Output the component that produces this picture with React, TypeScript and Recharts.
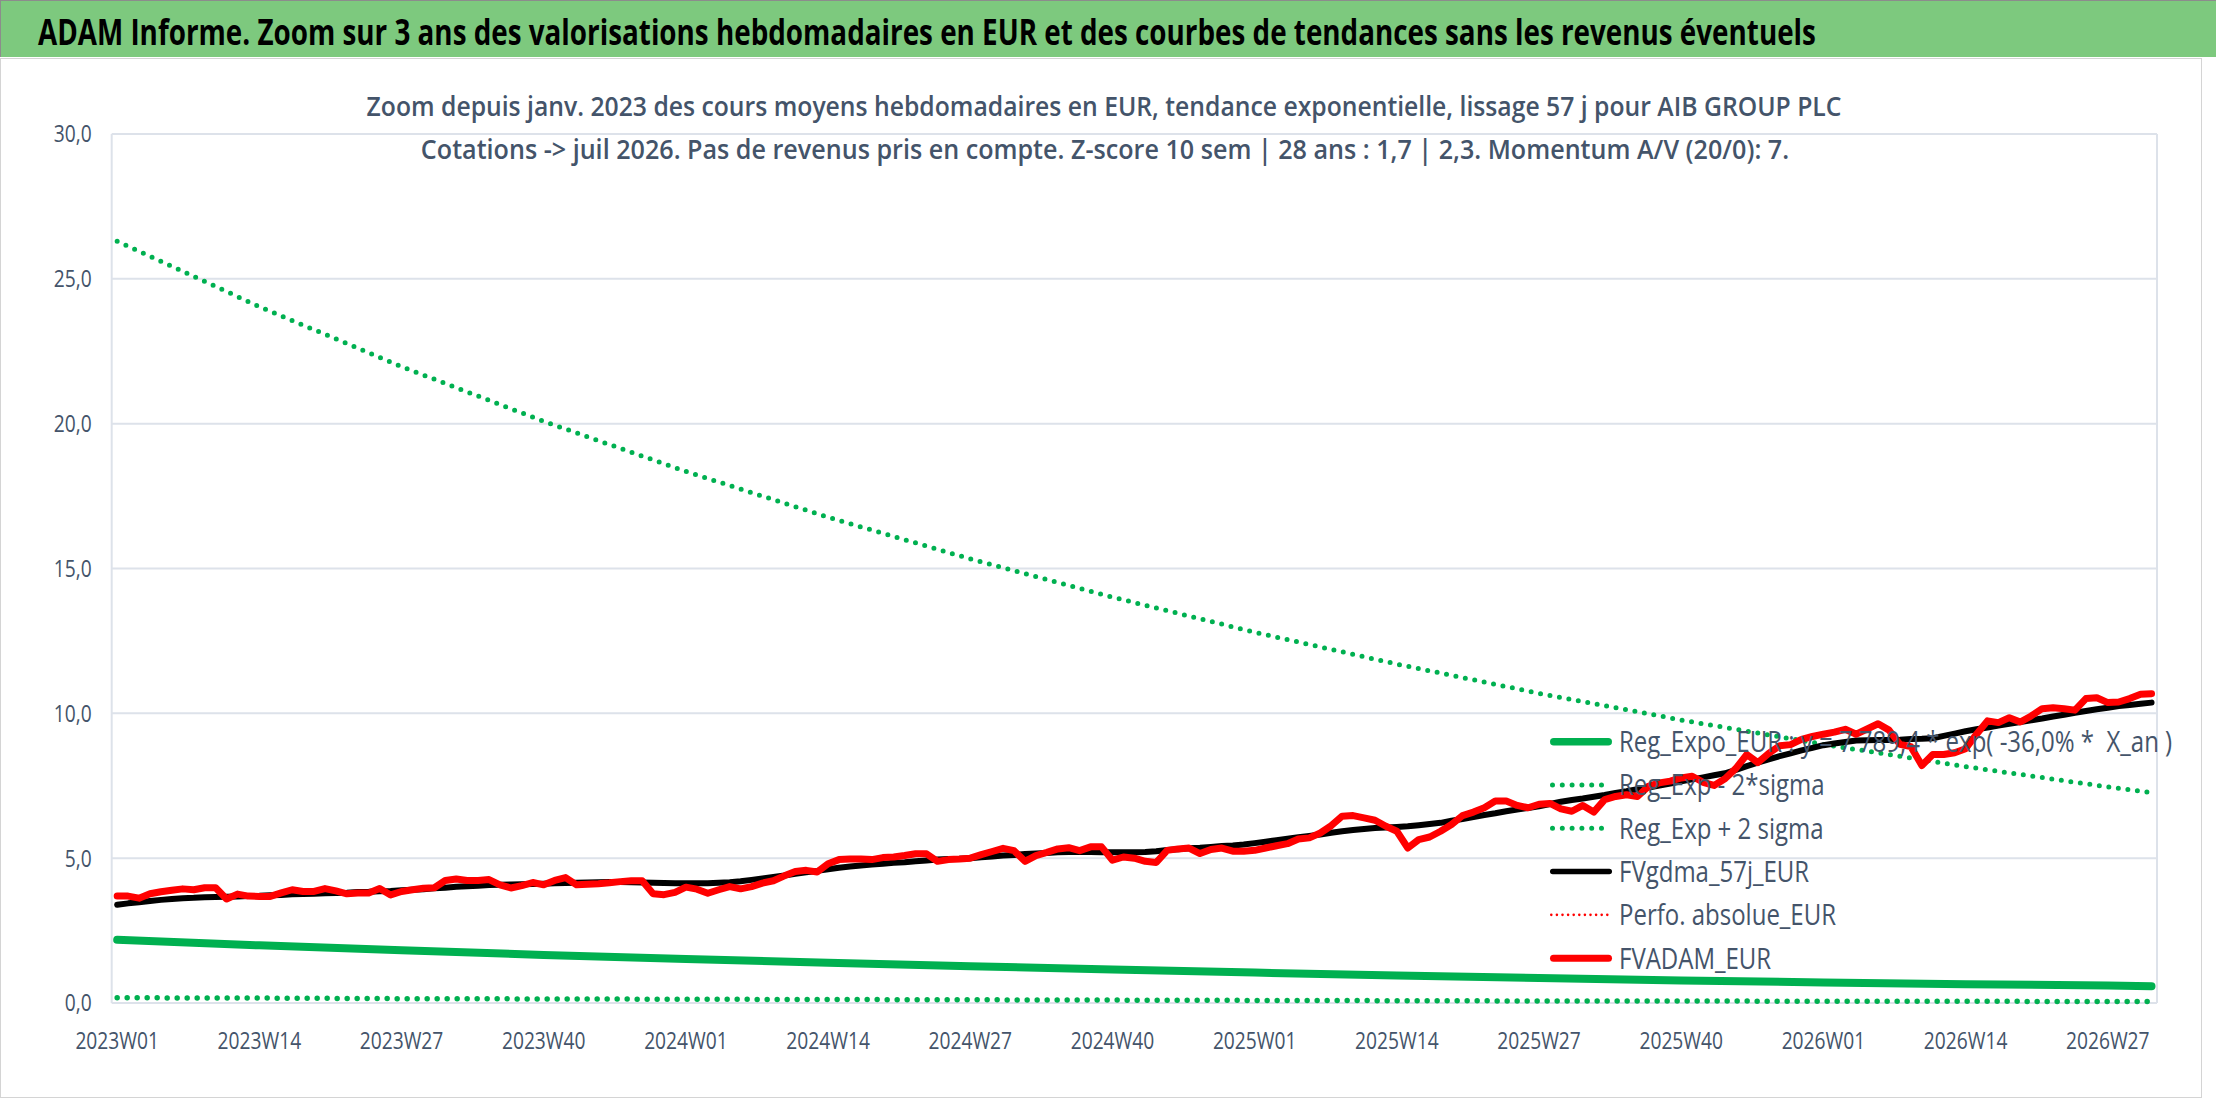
import React from 'react';
import { ComposedChart, Line, XAxis, YAxis, CartesianGrid, Legend } from 'recharts';

// ---------- categories ----------
const yearWeekCounts: [number, number][] = [
  [2023, 52],
  [2024, 52],
  [2025, 52],
  [2026, 31],
];
const weeks: string[] = [];
yearWeekCounts.forEach(([y, n]) => {
  for (let w = 1; w <= n; w++) weeks.push(`${y}W${String(w).padStart(2, '0')}`);
});

// ---------- tick labels ----------
const xTickLabels = [
  '2023W01', '2023W14', '2023W27', '2023W40',
  '2024W01', '2024W14', '2024W27', '2024W40',
  '2025W01', '2025W14', '2025W27', '2025W40',
  '2026W01', '2026W14', '2026W27',
];
const yTicks = [0, 5, 10, 15, 20, 25, 30];

// ---------- series (weekly) ----------
const fvadamEur = [
  3.69, 3.69, 3.62, 3.77, 3.84, 3.89, 3.94, 3.91, 3.98, 3.98,
  3.59, 3.76, 3.69, 3.68, 3.68, 3.80, 3.91, 3.85, 3.85, 3.95,
  3.87, 3.77, 3.80, 3.80, 3.95, 3.73, 3.85, 3.91, 3.96, 3.98,
  4.23, 4.28, 4.23, 4.23, 4.26, 4.08, 3.97, 4.05, 4.16, 4.08,
  4.23, 4.33, 4.08, 4.10, 4.12, 4.15, 4.19, 4.22, 4.22, 3.77,
  3.74, 3.82, 4.00, 3.93, 3.79, 3.91, 4.02, 3.94, 4.02, 4.14,
  4.22, 4.39, 4.54, 4.58, 4.52, 4.81, 4.95, 4.97, 4.97, 4.95,
  5.02, 5.04, 5.09, 5.15, 5.15, 4.89, 4.95, 4.97, 5.00, 5.12,
  5.23, 5.34, 5.26, 4.89, 5.09, 5.20, 5.32, 5.36, 5.26, 5.39,
  5.39, 4.93, 5.04, 5.00, 4.89, 4.85, 5.27, 5.32, 5.35, 5.16,
  5.30, 5.35, 5.24, 5.24, 5.27, 5.35, 5.43, 5.50, 5.66, 5.70,
  5.87, 6.12, 6.45, 6.47, 6.39, 6.31, 6.10, 5.93, 5.35, 5.64,
  5.73, 5.93, 6.16, 6.47, 6.59, 6.74, 6.97, 6.97, 6.82, 6.74,
  6.86, 6.89, 6.70, 6.62, 6.82, 6.59, 7.02, 7.13, 7.19, 7.13,
  7.48, 7.60, 7.66, 7.77, 7.83, 7.62, 7.51, 7.74, 8.10, 8.58,
  8.30, 8.62, 8.88, 8.92, 9.10, 9.20, 9.28, 9.35, 9.45, 9.28,
  9.46, 9.64, 9.42, 8.93, 8.85, 8.20, 8.58, 8.58, 8.64, 8.78,
  9.28, 9.74, 9.68, 9.85, 9.70, 9.91, 10.16, 10.19, 10.16, 10.11,
  10.51, 10.54, 10.37, 10.39, 10.51, 10.66, 10.68,
];

const fvgdma57jEur = [
  3.39, 3.44, 3.48, 3.52, 3.56, 3.59, 3.62, 3.63, 3.65, 3.66,
  3.67, 3.68, 3.69, 3.70, 3.72, 3.73, 3.75, 3.76, 3.77, 3.79,
  3.80, 3.81, 3.83, 3.84, 3.86, 3.87, 3.89, 3.91, 3.93, 3.96,
  3.98, 4.01, 4.03, 4.05, 4.07, 4.08, 4.09, 4.10, 4.11, 4.12,
  4.13, 4.14, 4.15, 4.16, 4.17, 4.18, 4.18, 4.17, 4.16, 4.15,
  4.14, 4.13, 4.13, 4.13, 4.13, 4.15, 4.17, 4.20, 4.25, 4.30,
  4.35, 4.40, 4.46, 4.51, 4.56, 4.62, 4.67, 4.71, 4.75, 4.78,
  4.81, 4.84, 4.86, 4.89, 4.92, 4.95, 4.97, 4.98, 5.00, 5.03,
  5.06, 5.09, 5.11, 5.14, 5.16, 5.18, 5.20, 5.21, 5.21, 5.21,
  5.20, 5.20, 5.20, 5.20, 5.21, 5.24, 5.28, 5.31, 5.34, 5.36,
  5.39, 5.42, 5.44, 5.47, 5.52, 5.57, 5.62, 5.67, 5.72, 5.77,
  5.82, 5.88, 5.93, 5.97, 6.01, 6.04, 6.06, 6.08, 6.10, 6.14,
  6.18, 6.22, 6.29, 6.35, 6.42, 6.49, 6.55, 6.62, 6.68, 6.73,
  6.79, 6.87, 6.95, 7.01, 7.06, 7.12, 7.18, 7.25, 7.31, 7.38,
  7.44, 7.51, 7.58, 7.65, 7.72, 7.79, 7.86, 7.93, 8.05, 8.18,
  8.30, 8.41, 8.52, 8.62, 8.72, 8.81, 8.90, 8.96, 9.01, 9.06,
  9.07, 9.08, 9.08, 9.09, 9.11, 9.12, 9.14, 9.22, 9.30, 9.38,
  9.45, 9.51, 9.58, 9.64, 9.70, 9.76, 9.82, 9.89, 9.95, 10.02,
  10.08, 10.14, 10.19, 10.25, 10.29, 10.33, 10.37,
];

// ---------- regression curves (read at quarter-week anchors) ----------
const regWeekIdx = [0, 13, 26, 39, 52, 65, 78, 91, 104, 117, 130, 143, 156, 169, 182, 186];
const regExpoEur = [2.18, 1.99, 1.82, 1.66, 1.52, 1.39, 1.27, 1.16, 1.05, 0.95, 0.86, 0.78, 0.71, 0.65, 0.60, 0.58];
const regExpMinus2Sigma = [0.18, 0.17, 0.15, 0.14, 0.13, 0.12, 0.11, 0.10, 0.09, 0.08, 0.07, 0.07, 0.06, 0.06, 0.05, 0.05];
const regExpPlus2Sigma = [26.3, 24.04, 21.97, 20.08, 18.35, 16.77, 15.33, 14.01, 12.8, 11.7, 10.69, 9.77, 8.93, 8.16, 7.46, 7.26];

// ---------- texts ----------
const TITLE = 'ADAM Informe. Zoom sur 3 ans des valorisations hebdomadaires en EUR et des courbes de tendances sans les revenus éventuels';
const SUB1 = 'Zoom depuis janv. 2023 des cours moyens hebdomadaires en EUR, tendance exponentielle, lissage 57 j pour AIB GROUP PLC';
const SUB2 = 'Cotations -> juil 2026. Pas de revenus pris en compte. Z-score 10 sem | 28 ans : 1,7 | 2,3. Momentum A/V (20/0): 7.';

// ---------- styles ----------
const FONT = '"Open Sans", "Noto Sans", sans-serif';
const TEXT = '#44546A';
const GRID = '#DDE2EA';
const GREEN = '#00B050';
const RED = '#FF0000';
const BLACK = '#000000';
const W = 2216;
const H = 1102;

const legendItems = [
  { label: 'Reg_Expo_EUR : y = 7 789,4 * exp( -36,0% *  X_an )', color: GREEN, width: 7.5, dash: undefined as string | undefined },
  { label: 'Reg_Exp - 2*sigma', color: GREEN, width: 5, dash: '0 9.8' },
  { label: 'Reg_Exp + 2 sigma', color: GREEN, width: 5, dash: '0 9.8' },
  { label: 'FVgdma_57j_EUR', color: BLACK, width: 5.5, dash: undefined },
  { label: 'Perfo. absolue_EUR', color: RED, width: 2.6, dash: '0 5.6' },
  { label: 'FVADAM_EUR', color: RED, width: 7, dash: undefined },
];

// ---------- table ----------
const regAt = (arr: number[], i: number) => {
  const k = regWeekIdx.indexOf(i);
  return k >= 0 ? arr[k] : null;
};
const rows = weeks.map((w, i) => ({
  pos: i + 0.5,
  week: w,
  fvadam: fvadamEur[i],
  fvgdma: fvgdma57jEur[i],
  regExpo: regAt(regExpoEur, i),
  regLow: regAt(regExpMinus2Sigma, i),
  regHigh: regAt(regExpPlus2Sigma, i),
}));
const boundaryTicks = xTickLabels.map((l) => weeks.indexOf(l));
const centerTicks = boundaryTicks.map((b) => b + 0.5);

function XTick(props: any) {
  const { x, y, payload } = props;
  const label = weeks[Math.floor(payload.value)];
  return (
    <g transform={`translate(${x},${y})`}>
      <text transform="scale(0.8,1)" textAnchor="middle" dy="0.35em" fontSize={24} fill={TEXT} fontFamily={FONT}>
        {label}
      </text>
    </g>
  );
}

function YTick(props: any) {
  const { x, y, payload } = props;
  const label = Number(payload.value).toFixed(1).replace('.', ',');
  return (
    <g transform={`translate(${x},${y})`}>
      <text transform="scale(0.8,1)" textAnchor="end" dy="0.35em" fontSize={24} fill={TEXT} fontFamily={FONT}>
        {label}
      </text>
    </g>
  );
}

function LegendBox() {
  const rowH = 43.3;
  return (
    <svg width={640} height={rowH * legendItems.length} style={{ overflow: 'visible', display: 'block' }}>
      {legendItems.map((it, k) => {
        const cy = rowH * (k + 0.5);
        return (
          <g key={k}>
            <line
              x1={1 + it.width / 2}
              x2={63 - it.width / 2}
              y1={cy}
              y2={cy}
              stroke={it.color}
              strokeWidth={it.width}
              strokeDasharray={it.dash}
              strokeLinecap="round"
            />
            <g transform={`translate(70,${cy})`}>
              <text
                transform="scale(0.8,1)"
                dy="0.35em"
                fontSize={30}
                fill={TEXT}
                fontFamily={FONT}
                style={{ whiteSpace: 'pre' }}
              >
                {it.label}
              </text>
            </g>
          </g>
        );
      })}
    </svg>
  );
}

export default function App() {
  return (
    <div
      style={{
        position: 'absolute',
        left: 0,
        top: 0,
        width: W,
        height: H,
        background: '#FFFFFF',
        overflow: 'hidden',
        fontFamily: FONT,
      }}
    >
      <div
        style={{
          position: 'absolute',
          left: 0,
          top: 0,
          width: W,
          height: 57,
          background: '#7DC97E',
          borderTop: '1px solid #8C8C8C',
          borderLeft: '1px solid #8C8C8C',
          boxSizing: 'border-box',
        }}
      />
      <div
        style={{
          position: 'absolute',
          left: 0,
          top: 58,
          width: 2202,
          height: 1040,
          border: '1.5px solid #D4D4D4',
          boxSizing: 'border-box',
        }}
      />
      <div style={{ position: 'absolute', left: 0, top: 0 }}>
        <ComposedChart width={W} height={H} data={rows} margin={{ top: 134, right: 59, bottom: 39, left: 11.7 }}>
          <CartesianGrid xAxisId="w" stroke={GRID} strokeWidth={2} />
          <XAxis
            xAxisId="w"
            type="number"
            dataKey="pos"
            domain={[0, 187]}
            allowDataOverflow
            ticks={boundaryTicks}
            interval={0}
            height={0}
            tick={false}
            tickSize={10}
            tickLine={{ stroke: GRID, strokeWidth: 2 }}
            axisLine={{ stroke: GRID, strokeWidth: 2 }}
          />
          <XAxis
            xAxisId="lbl"
            type="number"
            dataKey="pos"
            domain={[0, 187]}
            allowDataOverflow
            ticks={centerTicks}
            interval={0}
            height={60}
            tickSize={0}
            tickMargin={38}
            tickLine={false}
            axisLine={false}
            tick={<XTick />}
          />
          <YAxis
            type="number"
            domain={[0, 30]}
            ticks={yTicks}
            interval={0}
            width={100}
            tickSize={0}
            tickMargin={20}
            axisLine={false}
            tickLine={false}
            tick={<YTick />}
          />
          <Line xAxisId="w" type="linear" dataKey="regExpo" stroke={GREEN} strokeWidth={8} dot={false} activeDot={false} connectNulls isAnimationActive={false} strokeLinecap="round" strokeLinejoin="round" />
          <Line xAxisId="w" type="linear" dataKey="regLow" stroke={GREEN} strokeWidth={5.5} strokeDasharray="0 10" dot={false} activeDot={false} connectNulls isAnimationActive={false} strokeLinecap="round" />
          <Line xAxisId="w" type="linear" dataKey="regHigh" stroke={GREEN} strokeWidth={5} strokeDasharray="0 9.6" dot={false} activeDot={false} connectNulls isAnimationActive={false} strokeLinecap="round" />
          <Line xAxisId="w" type="linear" dataKey="fvgdma" stroke={BLACK} strokeWidth={6} dot={false} activeDot={false} isAnimationActive={false} strokeLinecap="round" strokeLinejoin="round" />
          <Line xAxisId="w" type="linear" dataKey="fvadam" stroke={RED} strokeWidth={7} dot={false} activeDot={false} isAnimationActive={false} strokeLinecap="round" strokeLinejoin="round" />
          <Legend
            layout="vertical"
            align="center"
            verticalAlign="middle"
            wrapperStyle={{ left: 1549, top: 720, width: 640, height: 260 }}
            content={() => <LegendBox />}
          />
        </ComposedChart>
      </div>
      <svg width={W} height={H} style={{ position: 'absolute', left: 0, top: 0, pointerEvents: 'none' }}>
        <g transform="translate(38,45) scale(0.77,1)">
          <text x={0} y={0} fontSize={35} fontWeight={700} fill="#000000" fontFamily={FONT} textLength={2309} lengthAdjust="spacingAndGlyphs">
            {TITLE}
          </text>
        </g>
        <g transform="translate(1104,116) scale(0.86,1)">
          <text x={0} y={0} textAnchor="middle" fontSize={27} fontWeight={600} fill={TEXT} fontFamily={FONT} textLength={1715} lengthAdjust="spacingAndGlyphs">
            {SUB1}
          </text>
        </g>
        <g transform="translate(1105,159) scale(0.86,1)">
          <text x={0} y={0} textAnchor="middle" fontSize={27} fontWeight={600} fill={TEXT} fontFamily={FONT} textLength={1591} lengthAdjust="spacingAndGlyphs">
            {SUB2}
          </text>
        </g>
      </svg>
    </div>
  );
}
